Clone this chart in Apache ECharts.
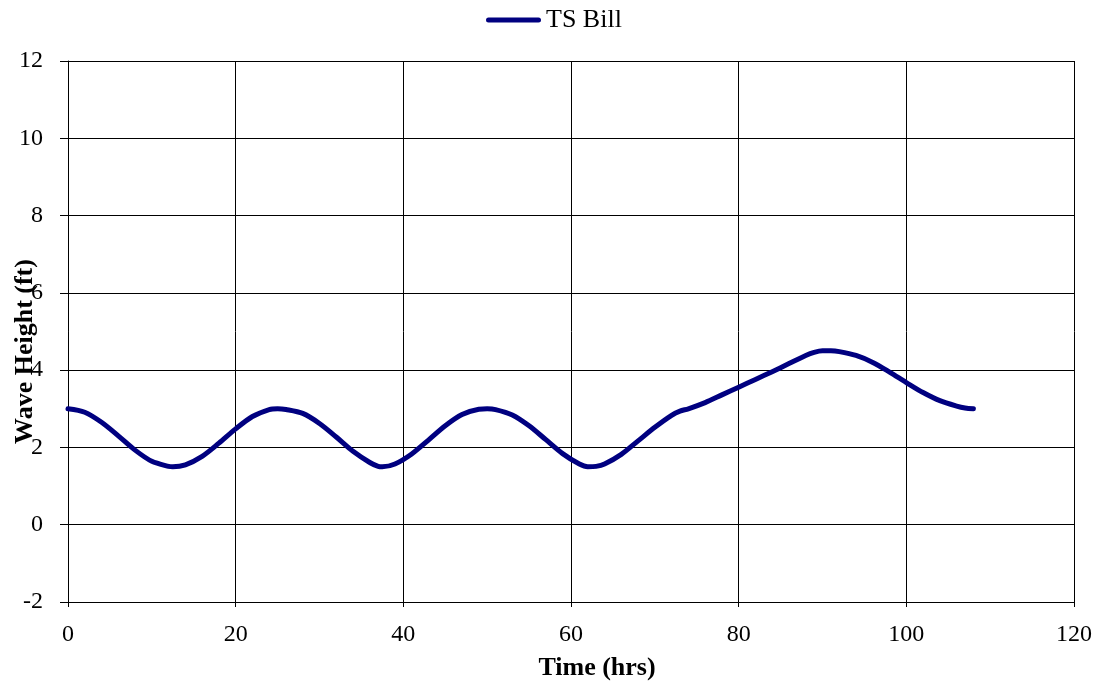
<!DOCTYPE html>
<html>
<head>
<meta charset="utf-8">
<script src="https://cdn.jsdelivr.net/npm/echarts@6/dist/echarts.min.js"></script>
<style>html,body{margin:0;padding:0;background:#fff}#c{width:1102px;height:687px}</style>
</head>
<body>
<div id="c"></div>
<script>
var seriesName = "TS Bill";
var timeHrs = [0,2,4,6,8,10,12,12.5,14,16,18,20,22,24,25,26,28,30,32,34,36,37,37.5,39,41,43,45,47,49,50,51,53,55,57,59,61,62,63,64,66,68,70,72,73,74,76,78,80,82,84,86,88,89,90,91,92,94,96,98,100,102,104,106,107,108];
var waveHeight = [3.0,2.91,2.65,2.30,1.93,1.64,1.51,1.5,1.55,1.77,2.11,2.48,2.80,2.98,3.0,2.98,2.88,2.62,2.27,1.9,1.61,1.51,1.5,1.57,1.83,2.19,2.56,2.85,2.99,3.0,2.98,2.84,2.56,2.2,1.84,1.57,1.5,1.51,1.57,1.82,2.17,2.52,2.83,2.94,3.0,3.16,3.36,3.56,3.76,3.96,4.17,4.38,4.46,4.5,4.5,4.48,4.38,4.2,3.95,3.68,3.42,3.21,3.07,3.02,3.0];
var xTicks = {min:0, max:120, interval:20};
var yTicks = {min:-2, max:12, interval:2};

var pts = timeHrs.map(function(t,i){return [t, waveHeight[i]];});
var font = "Liberation Serif";
var chart = echarts.init(document.getElementById('c'));
chart.setOption({
  animation:false,
  backgroundColor:'#fff',
  textStyle:{fontFamily:font},
  legend:{
    top:2, left:481,
    itemWidth:55, itemHeight:5, itemGap:4,
    textStyle:{fontFamily:font, fontSize:26, color:'#000'},
    data:[{name:seriesName, icon:'path://M2.5,0 L52.5,0 A2.5,2.5 0 0 1 52.5,5 L2.5,5 A2.5,2.5 0 0 1 2.5,0 Z'}]
  },
  grid:{left:68, right:28, top:61, bottom:85, containLabel:false, outerBoundsMode:'none'},
  xAxis:{
    type:'value', min:xTicks.min, max:xTicks.max, interval:xTicks.interval,
    name:'Time (hrs)', nameLocation:'middle', nameGap:53, nameMoveOverlap:false,
    nameTextStyle:{fontFamily:font, fontSize:26, fontWeight:'bold', color:'#000', padding:[0,0,0,52]},
    axisLine:{show:true, onZero:false, lineStyle:{color:'#000', width:1}},
    axisTick:{show:true, length:5, lineStyle:{color:'#000'}},
    axisLabel:{margin:21, fontFamily:font, fontSize:24, color:'#000'},
    splitLine:{show:true, lineStyle:{color:'#000', width:1}}
  },
  yAxis:{
    type:'value', min:yTicks.min, max:yTicks.max, interval:yTicks.interval,
    name:'Wave Height (ft)', nameLocation:'middle', nameGap:30, nameMoveOverlap:false,
    nameTextStyle:{fontFamily:font, fontSize:26, fontWeight:'bold', color:'#000', padding:[0,40,0,0]},
    axisLine:{show:true, onZero:false, lineStyle:{color:'#000', width:1}},
    axisTick:{show:true, length:8, lineStyle:{color:'#000'}},
    axisLabel:{margin:25, fontFamily:font, fontSize:24, color:'#000'},
    splitLine:{show:true, lineStyle:{color:'#000', width:1}}
  },
  series:[{
    name:seriesName, type:'line', data:pts, smooth:0.3,
    showSymbol:false, symbol:'none',
    lineStyle:{color:'#000080', width:5, cap:'round', join:'round'},
    itemStyle:{color:'#000080'}
  }]
});
</script>
</body>
</html>
